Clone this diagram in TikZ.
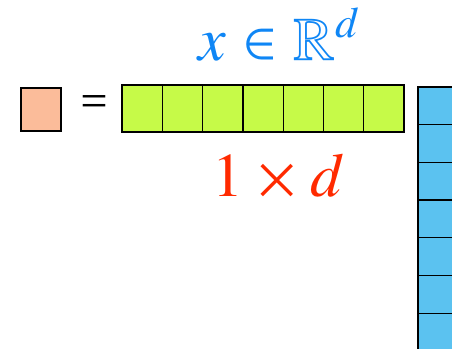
\documentclass[tikz,border=0pt]{standalone}
\usepackage{txfonts}
\usepackage{xcolor}
\usetikzlibrary{positioning}

\definecolor{peach}{HTML}{FBBC9A}
\definecolor{lime}{HTML}{C6FA48}
\definecolor{sky}{HTML}{5BC2F0}
\definecolor{azure}{HTML}{0F86F5}
\definecolor{scarlet}{HTML}{FF2A00}

\begin{document}
\begin{tikzpicture}[x=1pt,y=1pt,
    cell/.style={draw=black, line width=1.3pt, inner sep=0pt, outer sep=0pt, anchor=north west},
    gcell/.style={cell, fill=lime, minimum width=40.3pt, minimum height=47pt},
    bcell/.style={cell, fill=sky, minimum width=44pt, minimum height=37.7pt},
    label/.style={anchor=base, inner sep=0pt}]
    \useasboundingbox (0,0) rectangle (452,-348);
    \clip (0,0) rectangle (452,-348);

    % Scalaire
    \node[cell, fill=peach, minimum width=40pt, minimum height=43pt] (s) at (21,-88) {};
    \node[font=\fontsize{44}{50}\selectfont] (eq) at (94,-104) {$=$};

    % Vecteur ligne
    \foreach \i in {0,...,6}
        \node[gcell] (g\i) at ({122+40.3*\i},-85) {};

    % Colonne
    \foreach \j in {0,...,7}
        \node[bcell] (b\j) at (418,{-87-37.7*\j}) {};

    % Legendes
    \node[label, text=azure, font=\fontsize{62}{68}\selectfont] (xr) at (277,-60) {$x \in \mathbb{R}^d$};
    \node[label, text=scarlet, font=\fontsize{62}{68}\selectfont] (dim) at (278,-196) {$1 \times d$};
\end{tikzpicture}
\end{document}
